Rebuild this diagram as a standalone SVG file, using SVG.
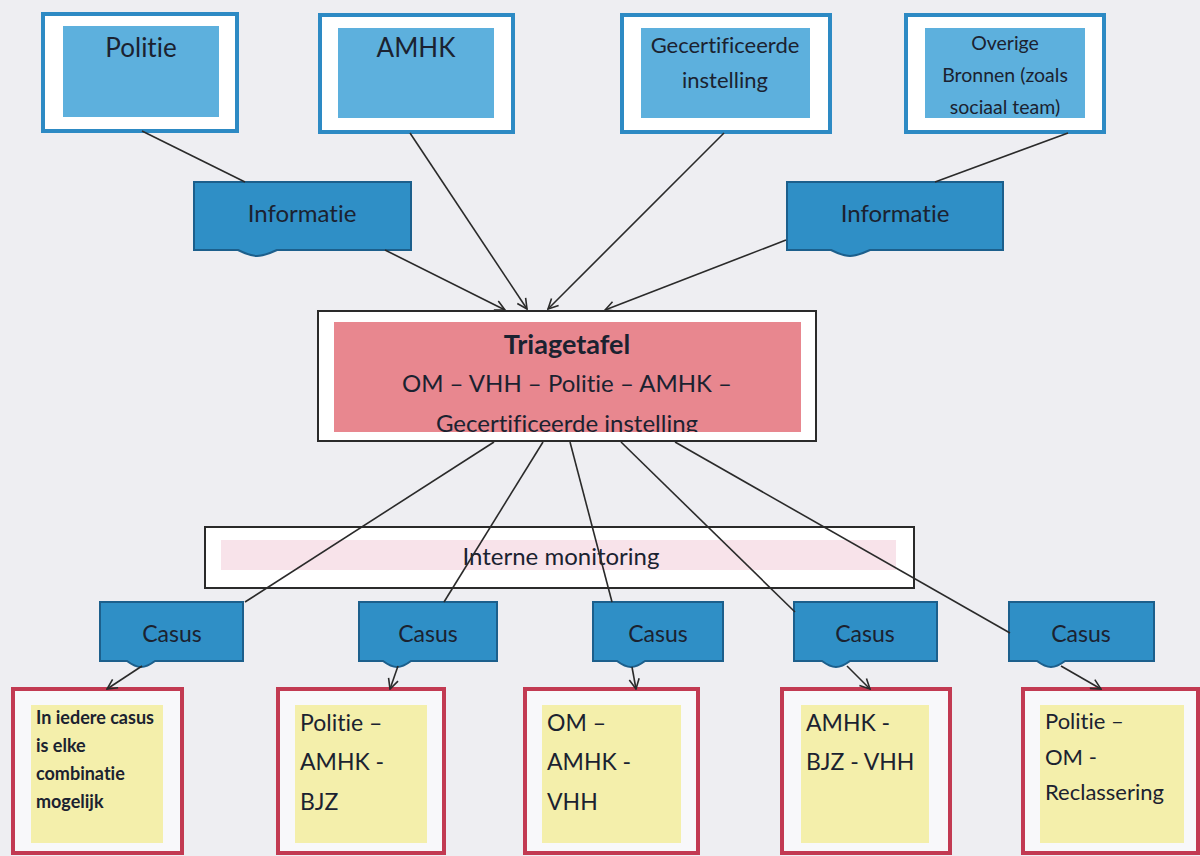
<svg xmlns="http://www.w3.org/2000/svg" width="1200" height="856" viewBox="0 0 1200 856">
<defs>
<style>
.bg{fill:#eeeef2}
.src-o{fill:#ffffff;stroke:#2d8ac4;stroke-width:4}
.src-i{fill:#5db0dd}
.tag{fill:#2f8fc6;stroke:#1c5f8c;stroke-width:2}
.res-o{fill:#f8f8fa;stroke:#c23a52;stroke-width:4}
.res-i{fill:#f4efab}
.t{font-family:Lato,"Open Sans","Liberation Sans",sans-serif;fill:#1b2230;font-variant-ligatures:none}
.c{text-anchor:middle}
.ln{stroke:#2a2a2a;stroke-width:1.6;fill:none}
</style>
<marker id="arr" viewBox="0 0 12 12" refX="11" refY="6" markerWidth="12" markerHeight="12" markerUnits="userSpaceOnUse" orient="auto">
<path d="M1,1 L11,6 L1,11" fill="none" stroke="#2a2a2a" stroke-width="1.6"/>
</marker>
<clipPath id="triclip"><rect x="334" y="322" width="467" height="110"/></clipPath>
</defs>
<rect class="bg" x="0" y="0" width="1200" height="856"/>

<g id="politie">
<rect class="src-o" x="43" y="14" width="194" height="117"/>
<rect class="src-i" x="63" y="26" width="156" height="91"/>
<text class="t c" x="141" y="57" font-size="26">Politie</text>
</g>
<g id="amhk">
<rect class="src-o" x="320" y="15" width="193" height="117"/>
<rect class="src-i" x="338" y="28" width="156" height="90"/>
<text class="t c" x="416" y="57" font-size="26">AMHK</text>
</g>
<g id="gecertificeerde">
<rect class="src-o" x="622" y="15" width="208" height="117"/>
<rect class="src-i" x="641" y="28" width="169" height="90"/>
<text class="t c" x="725" y="53" font-size="22">Gecertificeerde</text>
<text class="t c" x="725" y="88" font-size="22">instelling</text>
</g>
<g id="overige">
<rect class="src-o" x="906" y="15" width="198" height="117"/>
<rect class="src-i" x="925" y="28" width="160" height="90"/>
<text class="t c" x="1005" y="50" font-size="19.5">Overige</text>
<text class="t c" x="1005" y="82" font-size="19.5">Bronnen (zoals</text>
<text class="t c" x="1005" y="114" font-size="19.5">sociaal team)</text>
</g>

<g id="informatie-links">
<path class="tag" d="M194,182 H411 V250 H277 Q264,256 257,256 Q250,256 238,250 H194 Z"/>
<text class="t c" x="302" y="222" font-size="24">Informatie</text>
</g>
<g id="informatie-rechts">
<path class="tag" d="M787,182 H1003 V250 H870 Q857,256 850,256 Q843,256 831,250 H787 Z"/>
<text class="t c" x="895" y="222" font-size="24">Informatie</text>
</g>

<g id="triagetafel">
<rect x="318" y="311" width="498" height="130" fill="#ffffff" stroke="#2a2a2a" stroke-width="2"/>
<rect x="334" y="322" width="467" height="110" fill="#e8878f"/>
<text class="t c" x="567" y="354" font-size="27" font-weight="bold">Triagetafel</text>
<text class="t c" x="567" y="392" font-size="24">OM – VHH – Politie – AMHK –</text>
<g clip-path="url(#triclip)"><text class="t c" x="567" y="432" font-size="24">Gecertificeerde instelling</text></g>
</g>

<g id="interne-monitoring">
<rect x="205" y="527" width="709" height="61" fill="#ffffff" stroke="#2a2a2a" stroke-width="2"/>
<rect x="221" y="540" width="675" height="30" fill="#f8e3ea"/>
<text class="t c" x="561" y="565" font-size="24">Interne monitoring</text>
</g>

<g id="casus1">
<path class="tag" d="M100,602 H243 V661 H155 Q147,667 141,667 Q135,667 127,661 H100 Z"/>
<text class="t c" x="172" y="642" font-size="23">Casus</text>
</g>
<g id="casus2">
<path class="tag" d="M359,602 H497 V661 H411 Q403,667 397,667 Q391,667 383,661 H359 Z"/>
<text class="t c" x="428" y="642" font-size="23">Casus</text>
</g>
<g id="casus3">
<path class="tag" d="M593,602 H723 V661 H645 Q637,667 631,667 Q625,667 617,661 H593 Z"/>
<text class="t c" x="658" y="642" font-size="23">Casus</text>
</g>
<g id="casus4">
<path class="tag" d="M794,602 H937 V661 H850 Q842,667 836,667 Q830,667 822,661 H794 Z"/>
<text class="t c" x="865" y="642" font-size="23">Casus</text>
</g>
<g id="casus5">
<path class="tag" d="M1009,602 H1154 V661 H1065 Q1057,667 1051,667 Q1045,667 1037,661 H1009 Z"/>
<text class="t c" x="1081" y="642" font-size="23">Casus</text>
</g>

<g id="combinatie">
<rect class="res-o" x="13" y="689" width="169" height="164"/>
<rect class="res-i" x="31" y="705" width="132" height="138"/>
<text class="t" x="36" y="724" font-size="18" font-weight="bold">In iedere casus</text>
<text class="t" x="36" y="752" font-size="18" font-weight="bold">is elke</text>
<text class="t" x="36" y="780" font-size="18" font-weight="bold">combinatie</text>
<text class="t" x="36" y="808" font-size="18" font-weight="bold">mogelijk</text>
</g>
<g id="politie-amhk-bjz">
<rect class="res-o" x="278" y="689" width="166" height="164"/>
<rect class="res-i" x="295" y="705" width="132" height="138"/>
<text class="t" x="300" y="731" font-size="23">Politie –</text>
<text class="t" x="300" y="770" font-size="23">AMHK -</text>
<text class="t" x="300" y="810" font-size="23">BJZ</text>
</g>
<g id="om-amhk-vhh">
<rect class="res-o" x="525" y="689" width="173" height="164"/>
<rect class="res-i" x="542" y="705" width="139" height="138"/>
<text class="t" x="547" y="731" font-size="23">OM –</text>
<text class="t" x="547" y="770" font-size="23">AMHK -</text>
<text class="t" x="547" y="810" font-size="23">VHH</text>
</g>
<g id="amhk-bjz-vhh">
<rect class="res-o" x="782" y="689" width="168" height="164"/>
<rect class="res-i" x="801" y="705" width="128" height="138"/>
<text class="t" x="806" y="731" font-size="23">AMHK -</text>
<text class="t" x="806" y="770" font-size="23">BJZ - VHH</text>
</g>
<g id="politie-om-reclassering">
<rect class="res-o" x="1023" y="689" width="175" height="164"/>
<rect class="res-i" x="1040" y="705" width="144" height="138"/>
<text class="t" x="1045" y="729" font-size="22">Politie –</text>
<text class="t" x="1045" y="765" font-size="22">OM -</text>
<text class="t" x="1045" y="800" font-size="22">Reclassering</text>
</g>

<g id="connectors">
<line class="ln" x1="142" y1="131" x2="245" y2="182"/>
<line class="ln" x1="1068" y1="133" x2="935" y2="182"/>
<line class="ln" x1="410" y1="133" x2="527" y2="309" marker-end="url(#arr)"/>
<line class="ln" x1="385" y1="250" x2="505" y2="310" marker-end="url(#arr)"/>
<line class="ln" x1="724" y1="133" x2="548" y2="309" marker-end="url(#arr)"/>
<line class="ln" x1="786" y1="240" x2="605" y2="310" marker-end="url(#arr)"/>
<line class="ln" x1="494" y1="442" x2="245" y2="602"/>
<line class="ln" x1="543" y1="442" x2="444" y2="602"/>
<line class="ln" x1="570" y1="442" x2="612" y2="602"/>
<line class="ln" x1="621" y1="442" x2="795" y2="612"/>
<line class="ln" x1="675" y1="442" x2="1010" y2="633"/>
<line class="ln" x1="142" y1="666" x2="107" y2="689" marker-end="url(#arr)"/>
<line class="ln" x1="398" y1="666" x2="390" y2="689" marker-end="url(#arr)"/>
<line class="ln" x1="632" y1="667" x2="636" y2="689" marker-end="url(#arr)"/>
<line class="ln" x1="847" y1="666" x2="870" y2="689" marker-end="url(#arr)"/>
<line class="ln" x1="1061" y1="666" x2="1101" y2="689" marker-end="url(#arr)"/>
</g>
</svg>
